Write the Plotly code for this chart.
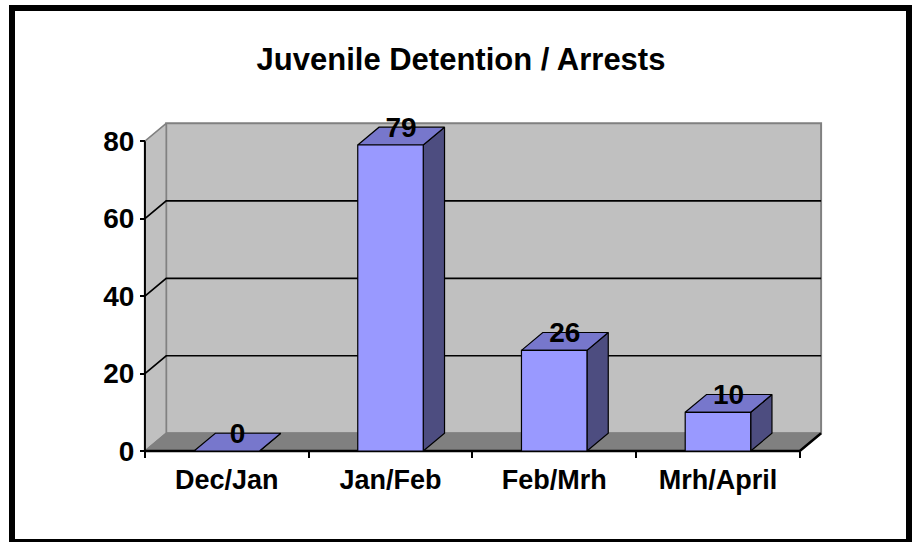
import plotly.graph_objects as go

# ---- data ----
categories = ["Dec/Jan", "Jan/Feb", "Feb/Mrh", "Mrh/April"]
arrests = [0, 79, 26, 10]
y_ticks = [0, 20, 40, 60, 80]
title_text = "Juvenile Detention / Arrests"

# ---- 3D look parameters (data units) ----
DX = 0.13      # depth offset along x
DY = 4.6       # depth offset along y
HALF_W = 0.2   # half bar width
X_LO, X_HI = -0.5, len(categories) - 0.5
Y_TOP = y_ticks[-1]

FONT = "Liberation Sans, Arial, sans-serif"
WALL = "#C0C0C0"
FLOOR = "#808080"
EDGE = "#808080"
FRONT = "#9999FF"
TOP = "#7777CC"
SIDE = "#4D4D80"

# pixel layout
W, H = 918, 542
PL, PT = 140, 121
PW, PH = 686, 332
x_range = [-0.53, 3.66]
y_range = [-0.5, 85.2]

fig = go.Figure()


def poly(xs, ys, fill, line_color, line_width):
    fig.add_trace(go.Scatter(x=xs, y=ys, mode="lines", fill="toself",
                             fillcolor=fill,
                             line=dict(color=line_color, width=line_width),
                             hoverinfo="skip", showlegend=False))


def path(xs, ys, color, width):
    fig.add_trace(go.Scatter(x=xs, y=ys, mode="lines",
                             line=dict(color=color, width=width),
                             hoverinfo="skip", showlegend=False))


# back wall
poly([X_LO + DX, X_HI + DX, X_HI + DX, X_LO + DX, X_LO + DX],
     [DY, DY, Y_TOP + DY, Y_TOP + DY, DY], WALL, EDGE, 2)
# left wall
poly([X_LO, X_LO + DX, X_LO + DX, X_LO, X_LO],
     [0, DY, Y_TOP + DY, Y_TOP, 0], WALL, EDGE, 1.5)
# gridlines on walls
for v in y_ticks[1:-1]:
    path([X_LO, X_LO + DX, X_HI + DX], [v, v + DY, v + DY], "black", 1.7)
# floor
poly([X_LO, X_HI, X_HI + DX, X_LO + DX, X_LO],
     [0, 0, DY, DY, 0], FLOOR, EDGE, 1.5)
# axis lines
path([X_LO, X_LO], [0, Y_TOP], "black", 2)
path([X_LO, X_HI, X_HI + DX], [0, 0, DY], "black", 2.5)

# bars
for i, v in enumerate(arrests):
    l, r = i - HALF_W, i + HALF_W
    # side face
    poly([r, r + DX, r + DX, r, r], [0, DY, v + DY, v, 0], SIDE, "black", 1.2)
    # top face
    poly([l, r, r + DX, l + DX, l], [v, v, v + DY, v + DY, v], TOP, "black", 1.2)
    # front face
    if v > 0:
        poly([l, r, r, l, l], [0, 0, v, v, 0], FRONT, "black", 1.2)

# data labels
fig.add_trace(go.Scatter(
    x=[i + DX * 0.5 for i in range(len(categories))],
    y=[v + DY * 0.85 for v in arrests],
    mode="text", text=[str(v) for v in arrests],
    textposition="middle center",
    textfont=dict(family=FONT, size=28, color="black", weight="bold"),
    hoverinfo="skip", showlegend=False, cliponaxis=False))

# paper coordinates helpers
def px_to_xp(px):
    return (px - PL) / PW


def py_to_yp(py):
    return (PT + PH - py) / PH


fig.update_layout(
    width=W, height=H,
    margin=dict(l=PL, r=W - PL - PW, t=PT, b=H - PT - PH, pad=0),
    paper_bgcolor="white", plot_bgcolor="white",
    title=dict(text=title_text, x=461 / W, xref="container", xanchor="center",
               y=1 - 59 / H, yref="container", yanchor="middle",
               font=dict(family=FONT, size=31, color="black", weight="bold")),
    xaxis=dict(range=x_range, showgrid=False, zeroline=False, showline=False,
               tickmode="array", tickvals=list(range(len(categories))),
               ticktext=categories, ticks="", ticklabelstandoff=10,
               tickfont=dict(family=FONT, size=27, color="black", weight="bold"),
               anchor="free", position=py_to_yp(451),
               minor=dict(ticks="outside", tickmode="linear", tick0=-0.5, dtick=1,
                          ticklen=6, tickwidth=2, tickcolor="black")),
    yaxis=dict(range=y_range, showgrid=False, zeroline=False, showline=False,
               tickmode="array", tickvals=y_ticks,
               ticks="outside", ticklen=5, tickwidth=2, tickcolor="black",
               tickfont=dict(family=FONT, size=28, color="black", weight="bold"),
               anchor="free", position=px_to_xp(145)),
    shapes=[dict(type="rect", xref="paper", yref="paper",
                 x0=px_to_xp(12), x1=px_to_xp(909),
                 y0=py_to_yp(8), y1=py_to_yp(542),
                 line=dict(color="black", width=6), fillcolor="rgba(0,0,0,0)")],
    showlegend=False,
)

fig.write_html("out.html",
               config={"displayModeBar": False, "staticPlot": True},
               post_script="document.body.style.margin='0';"
                           "document.body.style.overflow='hidden';")
